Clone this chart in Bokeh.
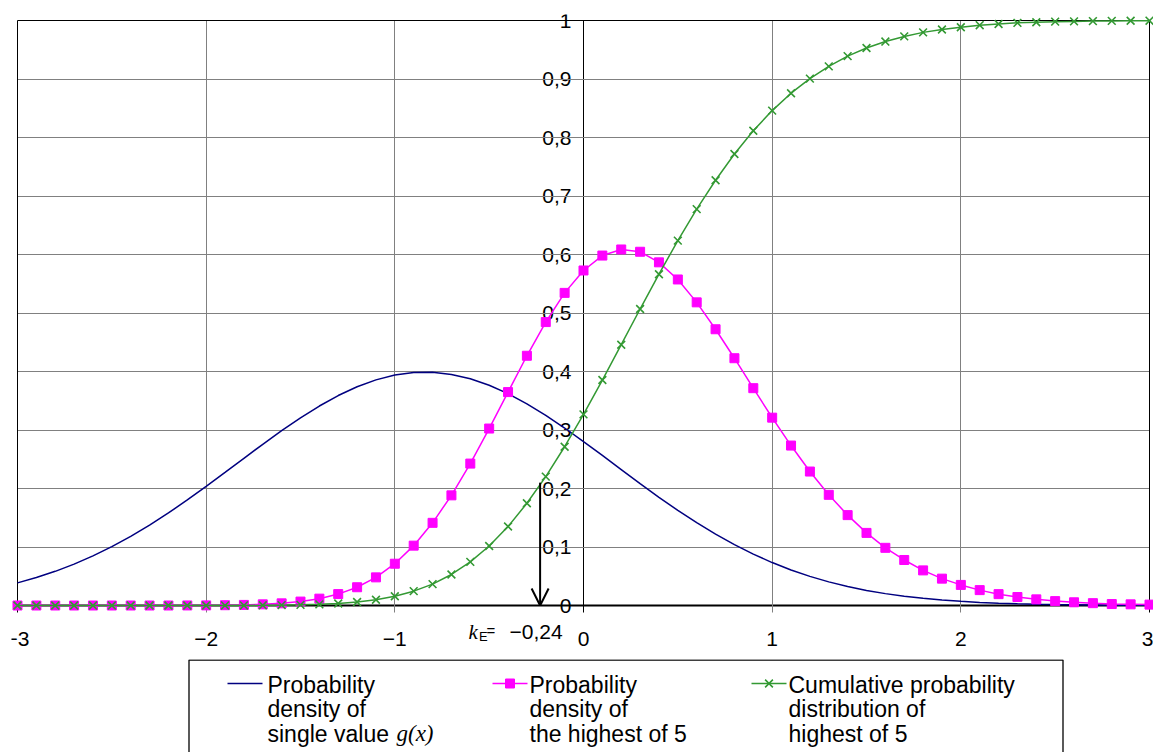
from bokeh.plotting import figure
from bokeh.models import Range1d, FixedTicker, Arrow, OpenHead, Label, Grid
from bokeh.layouts import column
from bokeh.embed import file_html
from bokeh.resources import INLINE
from bokeh.core.properties import value

# ---------------- data ----------------
x_values = [-3.0, -2.9, -2.8, -2.7, -2.6, -2.5, -2.4, -2.3, -2.2, -2.1,
            -2.0, -1.9, -1.8, -1.7, -1.6, -1.5, -1.4, -1.3, -1.2, -1.1,
            -1.0, -0.9, -0.8, -0.7, -0.6, -0.5, -0.4, -0.3, -0.2, -0.1,
            0.0, 0.1, 0.2, 0.3, 0.4, 0.5, 0.6, 0.7, 0.8, 0.9,
            1.0, 1.1, 1.2, 1.3, 1.4, 1.5, 1.6, 1.7, 1.8, 1.9,
            2.0, 2.1, 2.2, 2.3, 2.4, 2.5, 2.6, 2.7, 2.8, 2.9, 3.0]

# probability density of single value g(x)
g_single = [0.0387, 0.0478, 0.0584, 0.0707, 0.0848, 0.1006, 0.1182, 0.1374, 0.1582, 0.1804,
            0.2036, 0.2275, 0.2516, 0.2756, 0.2989, 0.3209, 0.3410, 0.3589, 0.3739, 0.3857,
            0.3939, 0.3982, 0.3986, 0.3950, 0.3876, 0.3765, 0.3621, 0.3448, 0.3251, 0.3034,
            0.2803, 0.2565, 0.2323, 0.2083, 0.1849, 0.1626, 0.1415, 0.1219, 0.1040, 0.0878,
            0.0734, 0.0608, 0.0498, 0.0404, 0.0325, 0.0258, 0.0203, 0.0159, 0.0122, 0.0093,
            0.0071, 0.0053, 0.0039, 0.0029, 0.0021, 0.0015, 0.0011, 0.0008, 0.0005, 0.0004, 0.0003]

# probability density of the highest of 5
f_highest5 = [0.0000, 0.0000, 0.0000, 0.0000, 0.0000, 0.0000, 0.0000, 0.0000, 0.0000, 0.0001,
              0.0002, 0.0005, 0.0010, 0.0020, 0.0037, 0.0067, 0.0117, 0.0195, 0.0312, 0.0481,
              0.0714, 0.1023, 0.1413, 0.1883, 0.2426, 0.3025, 0.3648, 0.4269, 0.4845, 0.5344,
              0.5727, 0.5982, 0.6086, 0.6047, 0.5866, 0.5573, 0.5182, 0.4722, 0.4227, 0.3715,
              0.3211, 0.2734, 0.2290, 0.1892, 0.1545, 0.1241, 0.0986, 0.0778, 0.0600, 0.0459,
              0.0352, 0.0263, 0.0194, 0.0145, 0.0105, 0.0075, 0.0055, 0.0040, 0.0025, 0.0020, 0.0015]

# cumulative probability distribution of highest of 5
F_highest5 = [0.0000, 0.0000, 0.0000, 0.0000, 0.0000, 0.0000, 0.0000, 0.0000, 0.0000, 0.0000,
              0.0000, 0.0001, 0.0001, 0.0003, 0.0006, 0.0011, 0.0020, 0.0035, 0.0060, 0.0099,
              0.0158, 0.0245, 0.0366, 0.0530, 0.0745, 0.1017, 0.1350, 0.1747, 0.2203, 0.2714,
              0.3267, 0.3854, 0.4458, 0.5068, 0.5663, 0.6237, 0.6776, 0.7269, 0.7718, 0.8116,
              0.8460, 0.8757, 0.9007, 0.9216, 0.9391, 0.9530, 0.9640, 0.9728, 0.9797, 0.9846,
              0.9885, 0.9920, 0.9940, 0.9960, 0.9970, 0.9980, 0.9985, 0.9990, 0.9993, 0.9995, 0.9997]

x_ticks = [-3, -2, -1, 0, 1, 2, 3]
x_tick_labels = ["\u22123", "\u22122", "\u22121", "0", "1", "2", "3"]
y_ticks = [0, 0.1, 0.2, 0.3, 0.4, 0.5, 0.6, 0.7, 0.8, 0.9, 1]
y_tick_labels = ["0", "0,1", "0,2", "0,3", "0,4", "0,5", "0,6", "0,7", "0,8", "0,9", "1"]

k_E_position = -0.23
k_E_arrow_top = 0.21
k_E_value_text = "\u22120,24"

legend_lines = [["Probability", "density of", "single value"],
                ["Probability", "density of", "the highest of 5"],
                ["Cumulative probability", "distribution of", "highest of 5"]]
legend_math = "g(x)"

BLUE = "#000080"
MAGENTA = "#FF00FF"
GREEN = "#339933"
GRID = "#808080"
FONT = "Liberation Sans"
SERIF = "Liberation Serif"

# ---------------- main figure ----------------
PX_X = 188.67   # px per x unit
PX_Y = 585.0    # px per y unit
x_lo, x_hi = -3 - 6 / PX_X, 3 + 4 / PX_X
y_lo, y_hi = -54 / PX_Y, 1 + 6 / PX_Y      # frame reaches down to the legend
tick_lo = -7 / PX_Y                        # vertical lines overhang below the x axis

p = figure(width=1153, height=659, x_range=Range1d(x_lo, x_hi), y_range=Range1d(y_lo, y_hi),
           output_backend="svg", toolbar_location=None, title=None,
           min_border_left=11, min_border_right=0, min_border_top=14, min_border_bottom=0,
           background_fill_color="white", border_fill_color="white")
p.outline_line_color = None

p.xgrid.ticker = FixedTicker(ticks=[t for t in x_ticks if t not in (0, -3, 3)])
p.ygrid.ticker = FixedTicker(ticks=[t for t in y_ticks if t not in (0, 1)])
for g in (p.xgrid[0], p.ygrid[0]):
    g.grid_line_color = GRID
    g.grid_line_width = 1
    g.minor_grid_line_color = None
p.xgrid[0].cross_bounds = (tick_lo, 1)
p.ygrid[0].cross_bounds = (-3, 3)
p.add_layout(Grid(dimension=0, ticker=FixedTicker(ticks=[-3, 3]), grid_line_color="black",
                  grid_line_width=1, cross_bounds=(tick_lo, 1)), "center")
p.add_layout(Grid(dimension=1, ticker=FixedTicker(ticks=[1]), grid_line_color="black",
                  grid_line_width=1, cross_bounds=(-3, 3)), "center")

xa = p.xaxis[0]
xa.fixed_location = 0
xa.bounds = (-3, 3)
xa.ticker = FixedTicker(ticks=x_ticks)
xa.major_label_overrides = dict(zip(x_ticks, x_tick_labels))
xa.axis_line_color = "black"
xa.axis_line_width = 2
xa.major_tick_in = 0
xa.major_tick_out = 0
xa.minor_tick_line_color = None
xa.major_label_text_font = FONT
xa.major_label_text_font_size = "21px"
xa.major_label_text_color = "black"
xa.major_label_standoff = 26
xa.level = "underlay"

ya = p.yaxis[0]
ya.fixed_location = 0
ya.bounds = (tick_lo, 1)
ya.ticker = FixedTicker(ticks=y_ticks)
ya.major_label_overrides = dict(zip(y_ticks, y_tick_labels))
ya.axis_line_color = "black"
ya.axis_line_width = 1
ya.major_tick_in = 7
ya.major_tick_out = 7
ya.major_tick_line_color = "black"
ya.minor_tick_line_color = None
ya.major_label_text_font = FONT
ya.major_label_text_font_size = "21px"
ya.major_label_text_color = "black"
ya.major_label_standoff = 5
ya.level = "underlay"

p.line(x_values, g_single, line_color=BLUE, line_width=1.5)
p.line(x_values, f_highest5, line_color=MAGENTA, line_width=1.5)
p.scatter(x_values, f_highest5, marker="square", size=9, fill_color=MAGENTA, line_color=MAGENTA)
p.line(x_values, F_highest5, line_color=GREEN, line_width=1.5)
p.scatter(x_values, F_highest5, marker="x", size=11, line_color=GREEN, line_width=1.6)

p.add_layout(Arrow(end=OpenHead(size=17, line_width=2, line_color="black"),
                   x_start=k_E_position, y_start=k_E_arrow_top,
                   x_end=k_E_position, y_end=0,
                   line_width=2, line_color="black"))

p.add_layout(Label(x=-0.6095, y=-0.0445, text="k", text_font=SERIF, text_font_style="italic",
                   text_font_size="21px", text_color="black", text_baseline="alphabetic"))
p.add_layout(Label(x=-0.5540, y=-0.053, text="E", text_font=FONT,
                   text_font_size="13px", text_color="black", text_baseline="alphabetic"))
p.add_layout(Label(x=-0.5140, y=-0.042, text="=", text_font=FONT,
                   text_font_size="15px", text_color="black", text_baseline="alphabetic"))
p.add_layout(Label(x=-0.3922, y=-0.0445, text=k_E_value_text, text_font=FONT,
                   text_font_size="21px", text_color="black", text_baseline="alphabetic"))

# ---------------- legend figure (page-pixel coordinates) ----------------
q = figure(width=1153, height=93, x_range=Range1d(11, 1153), y_range=Range1d(93, 0),
           output_backend="svg", toolbar_location=None, title=None,
           x_axis_location=None, y_axis_location=None,
           min_border_left=11, min_border_right=0, min_border_top=0, min_border_bottom=0,
           background_fill_color="white", border_fill_color="white")
q.outline_line_color = None
q.grid.visible = False

q.line([188.5, 188.5, 1062.5, 1062.5], [100, 0.5, 0.5, 100], line_color="black", line_width=1.3)

sample_x0 = [227, 492, 751]
sample_colors = [BLUE, MAGENTA, GREEN]
text_x = [267, 529, 788]
sample_y = 24
q.segment(x0=sample_x0, y0=[sample_y] * 3, x1=[x + 35 for x in sample_x0], y1=[sample_y] * 3,
          line_color=sample_colors, line_width=1.5)
q.scatter([sample_x0[1] + 17.5], [sample_y], marker="square", size=9,
          fill_color=MAGENTA, line_color=MAGENTA)
q.scatter([sample_x0[2] + 17.5], [sample_y], marker="x", size=11,
          line_color=GREEN, line_width=1.6)

row_y = [25, 49.5, 74]
tx, ty, tt = [], [], []
for i, lines in enumerate(legend_lines):
    for j, s in enumerate(lines):
        tx.append(text_x[i])
        ty.append(row_y[j])
        tt.append(s)
q.text(x=tx, y=ty, text=tt, text_font=value(FONT), text_font_size="23px",
       text_color="black", text_baseline="alphabetic", text_align="left")
q.text(x=[396], y=[row_y[2]], text=[legend_math], text_font=value(SERIF), text_font_style="italic",
       text_font_size="23px", text_color="black", text_baseline="alphabetic", text_align="left")

layout = column(p, q, spacing=0)
open("out.html", "w").write(file_html(layout, INLINE))
